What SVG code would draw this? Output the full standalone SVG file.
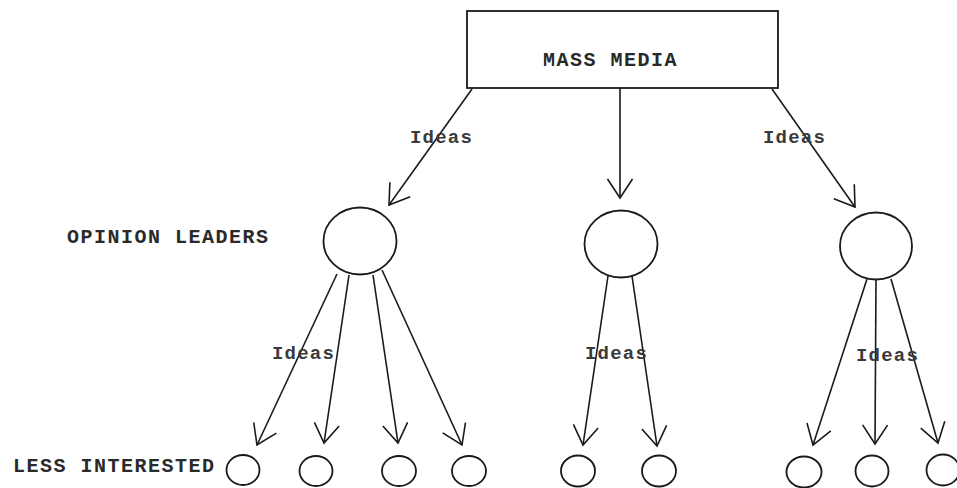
<svg xmlns="http://www.w3.org/2000/svg" width="957" height="488" viewBox="0 0 957 488">
<style>
  .shape { fill: #fff; stroke: #1a1a1a; stroke-width: 1.8; }
  .conn { fill: none; stroke: #1a1a1a; stroke-width: 1.6; }
  .lbl { font-family: "Liberation Mono", "DejaVu Sans Mono", monospace; font-size: 20px; font-weight: bold; letter-spacing: 1.5px; fill: #2a2a2a; }
  .idea { font-family: "Liberation Mono", "DejaVu Sans Mono", monospace; font-size: 19px; font-weight: bold; letter-spacing: 1.2px; fill: #3a3a3a; }
</style>
<defs>
  <marker id="arr" markerUnits="userSpaceOnUse" markerWidth="30" markerHeight="30" viewBox="-22 -15 26 30" refX="0" refY="0" orient="auto">
    <path d="M -19 -12.5 L 0 0 L -19 12.5" fill="none" stroke="#1a1a1a" stroke-width="1.6"/>
  </marker>
</defs>
<rect width="957" height="488" fill="#fff"/>
<g id="connectors">
  <line class="conn" x1="472" y1="89" x2="389" y2="205" marker-end="url(#arr)"/>
  <line class="conn" x1="620" y1="88" x2="620" y2="198" marker-end="url(#arr)"/>
  <line class="conn" x1="772" y1="89" x2="855" y2="207" marker-end="url(#arr)"/>
  <line class="conn" x1="337" y1="274" x2="257" y2="445" marker-end="url(#arr)"/>
  <line class="conn" x1="349" y1="275" x2="324" y2="443" marker-end="url(#arr)"/>
  <line class="conn" x1="373" y1="275" x2="398" y2="443" marker-end="url(#arr)"/>
  <line class="conn" x1="382" y1="270" x2="462" y2="445" marker-end="url(#arr)"/>
  <line class="conn" x1="608" y1="276" x2="583" y2="445" marker-end="url(#arr)"/>
  <line class="conn" x1="632" y1="276" x2="657" y2="446" marker-end="url(#arr)"/>
  <line class="conn" x1="867" y1="279" x2="813" y2="445" marker-end="url(#arr)"/>
  <line class="conn" x1="876" y1="280" x2="875" y2="444" marker-end="url(#arr)"/>
  <line class="conn" x1="891" y1="279" x2="938" y2="443" marker-end="url(#arr)"/>
</g>
<g id="labels">
  <text class="idea" x="410" y="143">Ideas</text>
  <text class="idea" x="763" y="143">Ideas</text>
  <text class="idea" x="272" y="359">Ideas</text>
  <text class="idea" x="585" y="359">Ideas</text>
  <text class="idea" x="856" y="361">Ideas</text>
  <text class="lbl" x="67" y="243">OPINION LEADERS</text>
  <text class="lbl" x="13" y="472">LESS INTERESTED</text>
</g>
<g id="mass-media">
  <rect class="shape" x="467" y="11" width="311" height="77"/>
  <text class="lbl" x="543" y="66">MASS MEDIA</text>
</g>
<g id="leader-1"><ellipse class="shape" cx="360" cy="241" rx="36.5" ry="33.5"/></g>
<g id="leader-2"><ellipse class="shape" cx="621" cy="244" rx="36.5" ry="33.5"/></g>
<g id="leader-3"><ellipse class="shape" cx="876" cy="246" rx="36" ry="33.5"/></g>
<g id="less-1"><ellipse class="shape" cx="243" cy="470" rx="16.5" ry="15"/></g>
<g id="less-2"><ellipse class="shape" cx="316" cy="471" rx="16.5" ry="15"/></g>
<g id="less-3"><ellipse class="shape" cx="399" cy="471" rx="17" ry="15"/></g>
<g id="less-4"><ellipse class="shape" cx="469" cy="471" rx="17" ry="15"/></g>
<g id="less-5"><ellipse class="shape" cx="578" cy="471" rx="17" ry="15.5"/></g>
<g id="less-6"><ellipse class="shape" cx="659" cy="471" rx="17" ry="15.5"/></g>
<g id="less-7"><ellipse class="shape" cx="804" cy="472" rx="17.5" ry="15.5"/></g>
<g id="less-8"><ellipse class="shape" cx="872" cy="471" rx="16.5" ry="15.5"/></g>
<g id="less-9"><ellipse class="shape" cx="943" cy="470" rx="16.5" ry="15.5"/></g>
</svg>
